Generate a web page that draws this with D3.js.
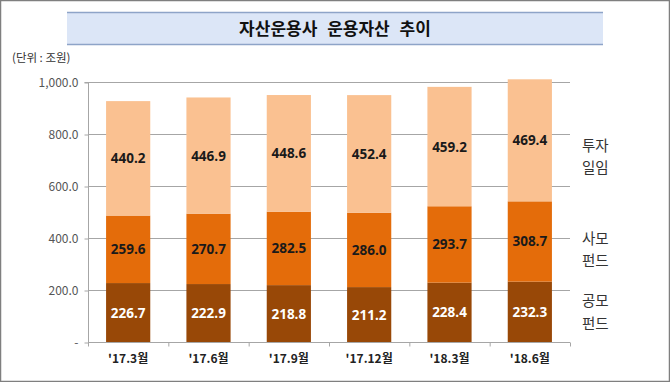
<!DOCTYPE html>
<html><head><meta charset="utf-8">
<script src="https://cdn.jsdelivr.net/npm/d3@7"></script>
<style>body{margin:0;background:#fff}svg{display:block}</style>
</head><body>
<svg id="c" width="670" height="382"></svg>
<script>
const categories = ["'17.3월","'17.6월","'17.9월","'17.12월","'18.3월","'18.6월"];
const seriesNames = ["공모펀드","사모펀드","투자일임"];
const publicFund = [226.7,222.9,218.8,211.2,228.4,232.3];
const privateFund = [259.6,270.7,282.5,286.0,293.7,308.7];
const discretionary = [440.2,446.9,448.6,452.4,459.2,469.4];
const yTicks = [0,200,400,600,800,1000];
const legendLines = [["투자","일임"],["사모","펀드"],["공모","펀드"]];
const colors = ["#984807","#E46C0A","#FAC191"];
const labelColors = ["#ffffff","#1a1a1a","#1a1a1a"];

const svg = d3.select("#c");
const font = "'Noto Sans CJK KR', 'Noto Sans', sans-serif";

// outer border
svg.append("rect").attr("x",0.5).attr("y",0.5).attr("width",669).attr("height",381)
  .attr("fill","#fff").attr("stroke","#7f7f7f").attr("stroke-width",1.5);

// title box
svg.append("rect").attr("x",67).attr("y",12).attr("width",536).attr("height",33).attr("fill","#DCE6F7");
svg.append("line").attr("x1",67).attr("x2",603).attr("y1",12.5).attr("y2",12.5).attr("stroke","#8EA4C8").attr("stroke-width",1.5);
svg.append("line").attr("x1",67).attr("x2",603).attr("y1",44.5).attr("y2",44.5).attr("stroke","#8EA4C8").attr("stroke-width",1.5);
svg.append("text").attr("x",335).attr("y",35).attr("text-anchor","middle")
  .attr("font-family",font).attr("font-weight","bold").attr("font-size",17).attr("fill","#111")
  .attr("word-spacing",6)
  .text("자산운용사 운용자산 추이");

svg.append("text").attr("x",12).attr("y",62).attr("font-family",font).attr("font-size",11.5).attr("fill","#333")
  .text("(단위 : 조원)");

const x0 = 88, x1 = 570;
const x = d3.scaleBand().domain(categories).range([x0,x1]).paddingInner(0.45).paddingOuter(0.225);
const y = d3.scaleLinear().domain([0,1000]).range([342,82]);

// gridlines
svg.append("g").selectAll("line").data(yTicks.slice(1)).join("line")
  .attr("x1",x0).attr("x2",x1).attr("y1",d=>y(d)+0.5).attr("y2",d=>y(d)+0.5)
  .attr("stroke","#a6a6a6").attr("stroke-width",1);

// y axis
const yAxis = d3.axisLeft(y).tickValues(yTicks).tickSize(4).tickPadding(24)
  .tickFormat(d=> d===0 ? "-" : d3.format(",.1f")(d));
const yg = svg.append("g").attr("transform",`translate(${x0+0.5},0.5)`).call(yAxis);
yg.select(".domain").attr("stroke","#a6a6a6").attr("d",`M-4,${y(1000)}H0V${y(0)}`);
yg.selectAll(".tick line").attr("stroke","#a6a6a6");
yg.selectAll(".tick text").attr("font-family",font).attr("font-size",12).attr("fill","#555").attr("x",-10);

// x axis
const xg = svg.append("g").attr("transform",`translate(0,${y(0)+0.5})`);
xg.append("line").attr("x1",x0).attr("x2",x1).attr("stroke","#a6a6a6");
const bounds = d3.range(categories.length+1).map(i=> x0 + i*(x1-x0)/categories.length);
xg.selectAll("line.t").data(bounds).join("line").attr("class","t")
  .attr("x1",d=>d+0.5).attr("x2",d=>d+0.5).attr("y1",0).attr("y2",4).attr("stroke","#a6a6a6");
xg.selectAll("text").data(categories).join("text")
  .attr("x",d=>x(d)+x.bandwidth()/2).attr("y",20).attr("text-anchor","middle")
  .attr("font-family",font).attr("font-weight","bold").attr("font-size",12).attr("fill","#222")
  .text(d=>d);

// stacked bars
const rows = categories.map((c,i)=>({cat:c, s0:publicFund[i], s1:privateFund[i], s2:discretionary[i]}));
const stack = d3.stack().keys(["s0","s1","s2"])(rows);
stack.forEach((layer,li)=>{
  const g = svg.append("g");
  g.selectAll("rect").data(layer).join("rect")
    .attr("x",d=>x(d.data.cat)).attr("width",x.bandwidth())
    .attr("y",d=>y(d[1])).attr("height",d=>y(d[0])-y(d[1]))
    .attr("fill",colors[li]);
  g.selectAll("text").data(layer).join("text")
    .attr("x",d=>x(d.data.cat)+x.bandwidth()/2).attr("y",d=>(y(d[0])+y(d[1]))/2+5)
    .attr("text-anchor","middle").attr("font-family","'Open Sans', sans-serif").attr("font-weight","bold")
    .attr("font-size",13.5).attr("fill",labelColors[li])
    .text(d=>(d[1]-d[0]).toFixed(1));
});

// legend text
const legendY = [[151,173],[244,266],[306,329]];
legendLines.forEach((lines,i)=>{
  lines.forEach((t,j)=>{
    svg.append("text").attr("x",582).attr("y",legendY[i][j]).attr("font-family",font)
      .attr("font-size",14.5).attr("fill","#333").text(t);
  });
});
</script>
</body></html>
